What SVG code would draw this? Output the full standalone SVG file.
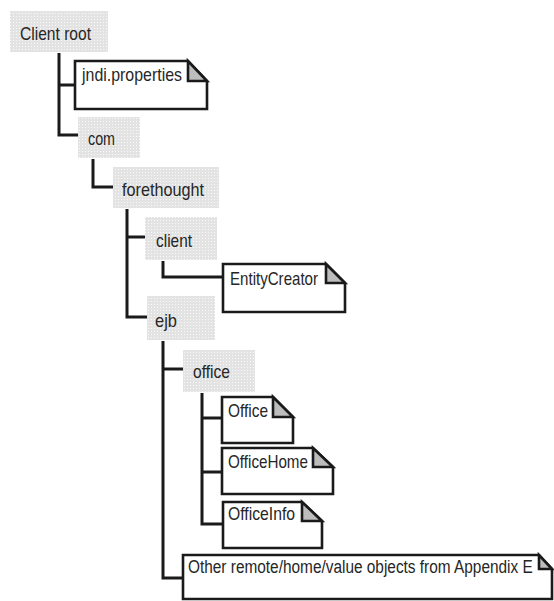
<svg xmlns="http://www.w3.org/2000/svg" width="554" height="601" viewBox="0 0 554 601">
<style>
.pkg{fill:url(#dots)}
.doc{fill:#fff;stroke:#1a1a1a;stroke-width:2.6;stroke-linejoin:miter}
.ear{fill:#bdbdbd;stroke:#1a1a1a;stroke-width:2.6}
.lbl{font-family:"Liberation Sans",Arial,sans-serif;font-size:19px;fill:#262626}
.con{fill:none;stroke:#1a1a1a;stroke-width:3}
</style>
<defs>
<pattern id="dots" width="3" height="3" patternUnits="userSpaceOnUse">
<rect width="3" height="3" fill="#e3e3e3"/>
<rect x="1" y="1" width="1" height="1" fill="#fafafa"/>
</pattern>
</defs>
<g id="connectors">
<path class="con" d="M59 53 V135 H78"/>
<path class="con" d="M59 85 H75"/>
<path class="con" d="M93 159 V187 H113"/>
<path class="con" d="M127 209 V317 H147"/>
<path class="con" d="M127 237 H145"/>
<path class="con" d="M163 261 V277 H223"/>
<path class="con" d="M163 341 V578 H183"/>
<path class="con" d="M163 369 H183"/>
<path class="con" d="M202 393 V524 H223"/>
<path class="con" d="M202 418 H222"/>
<path class="con" d="M202 472 H222"/>
</g>
<g id="client-root">
<rect class="pkg" x="10" y="11" width="98" height="41"/>
<text class="lbl" x="20" y="40" textLength="71" lengthAdjust="spacingAndGlyphs">Client root</text>
</g>
<g id="jndi-properties">
<path class="doc" d="M75 61 H188 L207 81 V109 H75 Z"/>
<path class="ear" d="M188 61 V81 H207 Z"/>
<text class="lbl" x="82" y="81" textLength="100" lengthAdjust="spacingAndGlyphs">jndi.properties</text>
</g>
<g id="com">
<rect class="pkg" x="78" y="117" width="62" height="41"/>
<text class="lbl" x="88" y="145" textLength="27" lengthAdjust="spacingAndGlyphs">com</text>
</g>
<g id="forethought">
<rect class="pkg" x="113" y="167" width="106" height="41"/>
<text class="lbl" x="122" y="196" textLength="82" lengthAdjust="spacingAndGlyphs">forethought</text>
</g>
<g id="client">
<rect class="pkg" x="145" y="217" width="72" height="43"/>
<text class="lbl" x="156" y="247" textLength="36" lengthAdjust="spacingAndGlyphs">client</text>
</g>
<g id="entity-creator">
<path class="doc" d="M223 264 H326 L345 283 V312 H223 Z"/>
<path class="ear" d="M326 264 V283 H345 Z"/>
<text class="lbl" x="230" y="285" textLength="88" lengthAdjust="spacingAndGlyphs">EntityCreator</text>
</g>
<g id="ejb">
<rect class="pkg" x="147" y="296" width="68" height="44"/>
<text class="lbl" x="155" y="327" textLength="22" lengthAdjust="spacingAndGlyphs">ejb</text>
</g>
<g id="office-pkg">
<rect class="pkg" x="183" y="350" width="72" height="42"/>
<text class="lbl" x="193" y="378" textLength="37" lengthAdjust="spacingAndGlyphs">office</text>
</g>
<g id="office">
<path class="doc" d="M222 397 H273 L293 417 V443 H222 Z"/>
<path class="ear" d="M273 397 V417 H293 Z"/>
<text class="lbl" x="228" y="417" textLength="40" lengthAdjust="spacingAndGlyphs">Office</text>
</g>
<g id="office-home">
<path class="doc" d="M222 448 H313 L333 467 V494 H222 Z"/>
<path class="ear" d="M313 448 V467 H333 Z"/>
<text class="lbl" x="228" y="468" textLength="80" lengthAdjust="spacingAndGlyphs">OfficeHome</text>
</g>
<g id="office-info">
<path class="doc" d="M223 502 H302 L322 521 V548 H223 Z"/>
<path class="ear" d="M302 502 V521 H322 Z"/>
<text class="lbl" x="228" y="520" textLength="67" lengthAdjust="spacingAndGlyphs">OfficeInfo</text>
</g>
<g id="other-objects">
<path class="doc" d="M183 555 H539 L552 569 V599 H183 Z"/>
<path class="ear" d="M539 555 V569 H552 Z"/>
<text class="lbl" transform="translate(188 573) scale(0.78 1)" x="0" y="0" textLength="442" lengthAdjust="spacingAndGlyphs">Other remote/home/value objects from Appendix E</text>
</g>
</svg>
